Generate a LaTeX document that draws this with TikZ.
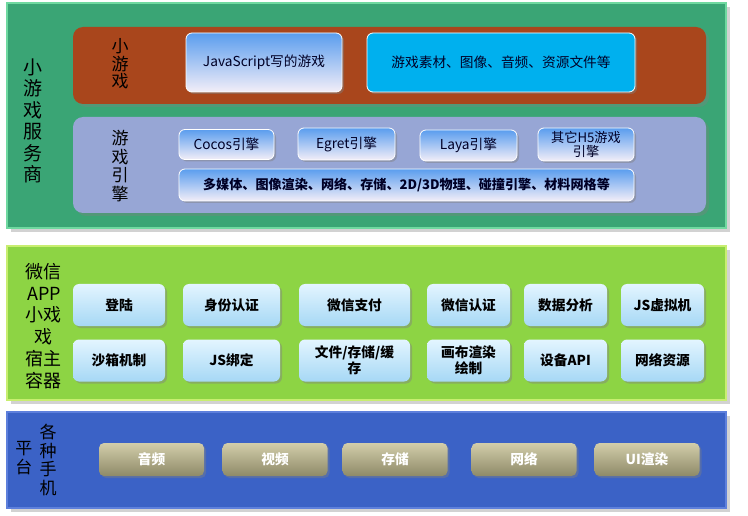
\documentclass[tikz,border=0pt]{standalone}
\usepackage{fontspec}
\setmainfont{Noto Sans CJK SC}
\usetikzlibrary{shadows}
\definecolor{svcgreen}{HTML}{3AA575}
\definecolor{svcedge}{HTML}{6FD9A0}
\definecolor{gamebrown}{HTML}{A9461C}
\definecolor{enginelav}{HTML}{97A6D5}
\definecolor{jsblue}{HTML}{5A9DEE}
\definecolor{jspale}{HTML}{F3EEF8}
\definecolor{rescyan}{HTML}{00B0EE}
\definecolor{wxgreen}{HTML}{8DD444}
\definecolor{wxedge}{HTML}{C8EE70}
\definecolor{wxtop}{HTML}{E3F5FF}
\definecolor{wxbottom}{HTML}{A6D8F5}
\definecolor{phoneblue}{HTML}{3B62C6}
\definecolor{phoneedge}{HTML}{5E80DC}
\definecolor{khakitop}{HTML}{D2CDAA}
\definecolor{khakibottom}{HTML}{8E8A68}
\tikzset{
  layer/.style={inner sep=0pt, outer sep=0pt, line width=2.5pt,
    drop shadow={opacity=0.35, shadow xshift=4pt, shadow yshift=-4pt}},
  inlayer/.style={rounded corners=10pt, inner sep=0pt, fill=#1,
    drop shadow={opacity=0.35, shadow xshift=3pt, shadow yshift=-3pt}},
  gamebox/.style={rounded corners=6pt, inner sep=2pt, align=center,
    draw=white, line width=0.8pt, text=black!85!blue,
    font=\fontsize{13.7}{16}\selectfont,
    drop shadow={opacity=0.45, shadow xshift=2pt, shadow yshift=-2pt}},
  enginebox/.style={gamebox, top color=jsblue, bottom color=jspale},
  wxbox/.style={rounded corners=6pt, inner sep=2pt, align=center,
    top color=wxtop, bottom color=wxbottom, minimum height=42pt,
    font=\bfseries\fontsize{13.7}{16}\selectfont,
    drop shadow={opacity=0.45, shadow xshift=2pt, shadow yshift=-2pt}},
  phonebtn/.style={rounded corners=5pt, top color=khakitop, bottom color=khakibottom,
    minimum width=105pt, minimum height=33pt, text=white,
    font=\bfseries\fontsize{13.7}{16}\selectfont,
    drop shadow={opacity=0.4, shadow xshift=2pt, shadow yshift=-2pt}},
  vlabel/.style n args={2}{align=center, inner sep=0pt, font=\fontsize{#1}{#2}\selectfont},
}
\begin{document}
\begin{tikzpicture}[x=1pt,y=-1pt]
\useasboundingbox[fill=white] (0,0) rectangle (748,516);

\node[layer, fill=svcgreen, draw=svcedge, minimum width=719pt, minimum height=225pt] (svc) at (366.5,115.5) {};
\node[inlayer=gamebrown, minimum width=633pt, minimum height=77pt] (game) at (389.5,65.5) {};
\node[inlayer=enginelav, minimum width=633pt, minimum height=96pt] (engine) at (389.5,165) {};

\node[vlabel={19}{21.5}] (svclbl) at (33,121) {小\\游\\戏\\服\\务\\商};
\node[vlabel={17}{17.5}] (gamelbl) at (120,64) {小\\游\\戏};
\node[vlabel={17}{18.5}] (englbl) at (120,166) {游\\戏\\引\\擎};

\node[enginebox, minimum width=156pt, minimum height=59pt] (js) at (264,62.5) {JavaScript写的游戏};
\node[gamebox, fill=rescyan, minimum width=268pt, minimum height=59pt] (res) at (501,62.5) {游戏素材、图像、音频、资源文件等};

\node[enginebox, minimum width=95pt, minimum height=30pt] (cocos) at (226.5,144.5) {Cocos引擎};
\node[enginebox, minimum width=97pt, minimum height=32pt] (egret) at (346.5,144) {Egret引擎};
\node[enginebox, minimum width=97pt, minimum height=31pt] (laya) at (468.5,145.5) {Laya引擎};
\node[enginebox, minimum width=96pt, minimum height=33pt, inner sep=0pt,
  font=\fontsize{13.2}{14.5}\selectfont] (otherh5) at (586,144.5) {其它H5游戏\\引擎};
\node[enginebox, minimum width=455pt, minimum height=32pt,
  font=\bfseries\fontsize{13.1}{15}\selectfont] (feat) at (406.5,185) {多媒体、图像渲染、网络、存储、2D/3D物理、碰撞引擎、材料网格等};

\node[layer, fill=wxgreen, draw=wxedge, minimum width=719pt, minimum height=154pt] (wx) at (366.5,323) {};
\node[vlabel={18}{21.7}] (wxlbl) at (44,326) {微信\\APP\\小戏\\戏\\宿主\\容器};

\node[wxbox, minimum width=92pt] (login) at (119,305) {登陆};
\node[wxbox, minimum width=97pt] (auth) at (231.5,305) {身份认证};
\node[wxbox, minimum width=111pt] (pay) at (354.5,305) {微信支付};
\node[wxbox, minimum width=83pt] (wxauth) at (468.5,305) {微信认证};
\node[wxbox, minimum width=83pt] (stats) at (565.5,305) {数据分析};
\node[wxbox, minimum width=83pt] (jsvm) at (662.5,305) {JS虚拟机};
\node[wxbox, minimum width=92pt] (sandbox) at (119,360.5) {沙箱机制};
\node[wxbox, minimum width=97pt] (jsbind) at (231.5,360.5) {JS绑定};
\node[wxbox, minimum width=111pt] (file) at (354.5,360.5) {文件/存储/缓\\存};
\node[wxbox, minimum width=83pt] (canvas) at (468.5,360.5) {画布渲染\\绘制};
\node[wxbox, minimum width=83pt] (devapi) at (565.5,360.5) {设备API};
\node[wxbox, minimum width=83pt] (netres) at (662.5,360.5) {网络资源};

\node[layer, fill=phoneblue, draw=phoneedge, minimum width=719pt, minimum height=96pt] (phone) at (366.5,460) {};
\node[vlabel={17}{19}] (platlbl) at (24,458) {平\\台};
\node[vlabel={17}{18.5}] (mobilbl) at (48,460) {各\\种\\手\\机};

\foreach \cx/\txt [count=\i] in {151.5/音频, 275/视频, 395/存储, 524/网络, 647/UI渲染}
  \node[phonebtn] (ph\i) at (\cx,459.5) {\txt};
\end{tikzpicture}
\end{document}
